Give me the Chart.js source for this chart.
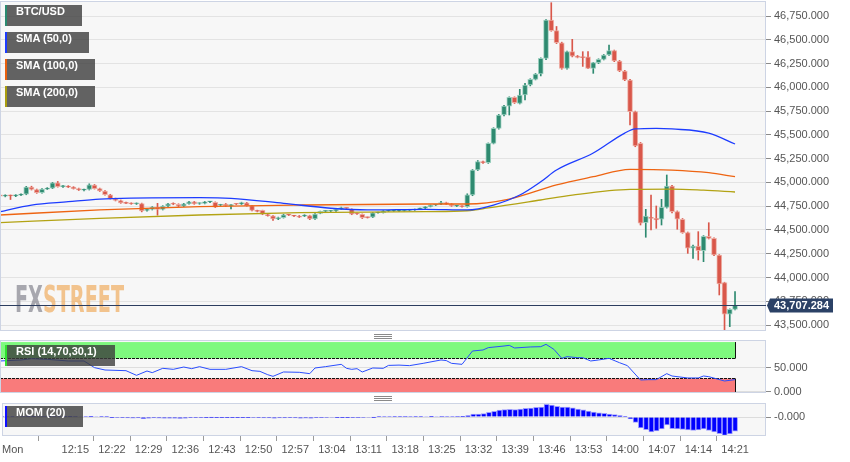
<!DOCTYPE html>
<html>
<head>
<meta charset="utf-8">
<script src="https://cdn.jsdelivr.net/npm/chart.js@4.4.1/dist/chart.umd.min.js"></script>
<style>
    body { margin: 0; background: #fff; }
    #wrap { position: relative; width: 850px; height: 462px; overflow: hidden; }
    canvas { position: absolute; left: 0; }
    .tag {
        position: absolute; left: 5px; height: 21px; line-height: 21px;
        background: rgba(60, 60, 60, 0.8); color: #fff;
        font: bold 11px "Liberation Sans", Arial, sans-serif;
        padding-left: 9px; box-sizing: border-box; border-left: 2px solid; z-index: 5;
    }
    .grip {
        position: absolute; left: 374px; width: 18px; height: 3px;
        border-top: 1px solid #8a8a8a; border-bottom: 1px solid #8a8a8a;
    }
    .grip::after { content: ''; position: absolute; left: 0; right: 0; top: 1px; border-top: 1px solid #8a8a8a; }
</style>
</head>
<body>
<div id="wrap">
    <canvas id="mainChart" width="850" height="333" style="top:0"></canvas>
    <div class="grip" style="top:334px"></div>
    <canvas id="rsiChart" width="850" height="58" style="top:338px"></canvas>
    <div class="grip" style="top:396px"></div>
    <canvas id="momChart" width="850" height="62" style="top:400px"></canvas>

    <div class="tag" style="top:5px; width:77px; border-left-color:#2a8a70">BTC/USD</div>
    <div class="tag" style="top:32px; width:84px; border-left-color:#1d3cff">SMA (50,0)</div>
    <div class="tag" style="top:59px; width:90px; border-left-color:#e8600e">SMA (100,0)</div>
    <div class="tag" style="top:86px; width:90px; border-left-color:#a89c10">SMA (200,0)</div>
    <div class="tag" style="top:345px; width:110px; border-left-color:#2fe02f">RSI (14,70,30,1)</div>
    <div class="tag" style="top:406px; width:78px; border-left-color:#1010ff">MOM (20)</div>
</div>
<script>
// 1-minute candles, 12:01 .. 14:21
const opens = [
    44870, 44855, 44862, 44858, 44866, 44876, 44950, 44925, 44892, 44930,
    44940, 44995, 44955, 44962, 44950, 44935, 44918, 44925, 44972, 44935,
    44910, 44870, 44830, 44810, 44785, 44780, 44775, 44778, 44705, 44715,
    44740, 44715, 44750, 44778, 44770, 44750, 44775, 44795, 44778, 44778,
    44795, 44790, 44760, 44773, 44755, 44772, 44773, 44785, 44755, 44703,
    44705, 44660, 44648, 44615, 44630, 44658, 44648, 44647, 44645, 44650,
    44615, 44675, 44696, 44697, 44700, 44717, 44728, 44718, 44672, 44665,
    44632, 44635, 44680, 44682, 44698, 44700, 44700, 44702, 44704, 44710,
    44722, 44728, 44745, 44760, 44770, 44787, 44773, 44750, 44752, 44745,
    44867, 45130, 45218, 45207, 45411, 45569, 45709, 45803, 45895, 45832,
    45919, 46024, 46084, 46140, 46305, 46708, 46596, 46469, 46200, 46375,
    46329, 46315, 46320, 46200, 46259, 46294, 46340, 46386, 46277, 46172,
    46077, 45744, 45411, 44576, 44633, 44622, 44612, 44738, 44962, 44692,
    44612, 44471, 44307, 44331, 44282, 44433, 44412, 44236, 43945, 43613, 43665
];
const highs = [
    44885, 44870, 44868, 44872, 44880, 44958, 44960, 44930, 44935, 44945,
    45000, 45010, 44968, 44966, 44955, 44940, 44930, 44985, 44978, 44940,
    44915, 44875, 44835, 44815, 44792, 44786, 44785, 44782, 44720, 44745,
    44780, 44755, 44780, 44785, 44775, 44780, 44800, 44800, 44785, 44800,
    44800, 44795, 44770, 44778, 44768, 44776, 44792, 44790, 44758, 44708,
    44708, 44665, 44652, 44635, 44665, 44662, 44654, 44652, 44660, 44655,
    44672, 44698, 44702, 44706, 44720, 44740, 44732, 44722, 44676, 44668,
    44636, 44684, 44688, 44704, 44705, 44706, 44710, 44708, 44714, 44720,
    44730, 44748, 44762, 44766, 44800, 44792, 44776, 44756, 44756, 44880,
    45135, 45230, 45225, 45415, 45575, 45715, 45810, 45900, 45900, 45979,
    46042, 46090, 46145, 46310, 46712, 46890, 46640, 46475, 46380, 46505,
    46335, 46375, 46375, 46262, 46300, 46345, 46445, 46392, 46283, 46178,
    46085, 45750, 45420, 44717, 44867, 44752, 44822, 45078, 44970, 44700,
    44620, 44478, 44340, 44482, 44440, 44576, 44418, 44240, 43950, 43670, 43851
];
const lows = [
    44845, 44848, 44820, 44850, 44860, 44870, 44920, 44885, 44888, 44925,
    44935, 44950, 44948, 44945, 44930, 44915, 44910, 44920, 44930, 44905,
    44865, 44825, 44805, 44780, 44776, 44770, 44768, 44690, 44698, 44710,
    44655, 44710, 44745, 44765, 44745, 44745, 44770, 44770, 44770, 44774,
    44788, 44735, 44752, 44748, 44720, 44765, 44768, 44750, 44700, 44690,
    44660, 44645, 44600, 44608, 44625, 44650, 44640, 44630, 44640, 44608,
    44610, 44670, 44690, 44692, 44696, 44714, 44720, 44660, 44662, 44620,
    44625, 44630, 44676, 44678, 44694, 44696, 44696, 44698, 44700, 44706,
    44718, 44724, 44742, 44756, 44766, 44768, 44748, 44745, 44740, 44740,
    44860, 45125, 45200, 45200, 45405, 45560, 45700, 45709, 45830, 45825,
    45867, 46015, 46078, 46120, 46290, 46590, 46460, 46190, 46190, 46320,
    46310, 46220, 46195, 46147, 46250, 46288, 46335, 46270, 46165, 46070,
    45604, 45375, 44552, 44423, 44499, 44517, 44552, 44730, 44680, 44507,
    44465, 44254, 44201, 44184, 44166, 44405, 44230, 43816, 43448, 43483, 43658
];
const closes = [
    44855, 44862, 44858, 44866, 44874, 44950, 44925, 44892, 44930, 44940,
    44995, 44955, 44962, 44950, 44935, 44920, 44925, 44975, 44935, 44910,
    44870, 44830, 44810, 44785, 44780, 44775, 44778, 44700, 44715, 44740,
    44715, 44750, 44775, 44770, 44750, 44775, 44795, 44775, 44778, 44795,
    44795, 44740, 44766, 44752, 44765, 44770, 44787, 44755, 44705, 44695,
    44665, 44650, 44615, 44630, 44660, 44656, 44645, 44635, 44655, 44615,
    44668, 44695, 44698, 44702, 44717, 44735, 44726, 44665, 44668, 44630,
    44630, 44680, 44684, 44700, 44700, 44702, 44706, 44704, 44710, 44716,
    44726, 44745, 44759, 44763, 44787, 44772, 44752, 44752, 44745, 44870,
    45130, 45218, 45207, 45411, 45569, 45709, 45803, 45895, 45838, 45919,
    46024, 46084, 46140, 46305, 46708, 46596, 46469, 46200, 46375, 46329,
    46315, 46312, 46200, 46259, 46294, 46340, 46386, 46277, 46172, 46077,
    45744, 45383, 44570, 44647, 44622, 44605, 44738, 44962, 44692, 44612,
    44471, 44307, 44331, 44282, 44433, 44412, 44236, 43931, 43613, 43665, 43707.284
];

// moving averages as [minute, price]
const sma50 = [[1, 44692], [7, 44762], [14, 44797], [20, 44825], [26, 44835], [39, 44839], [45, 44833],
    [55, 44780], [64, 44728], [71, 44710], [82, 44717], [90, 44710], [95, 44762], [100, 44867],
    [104, 45007], [107, 45130], [114, 45309], [120, 45519], [122, 45562], [126, 45569], [129, 45562],
    [136, 45519], [141, 45404]];
const sma100 = [[1, 44657], [20, 44710], [39, 44745], [58, 44762], [82, 44773], [90, 44773], [98, 44825],
    [107, 44973], [114, 45060], [121, 45138], [129, 45130], [136, 45102], [141, 45060]];
const sma200 = [[1, 44576], [20, 44622], [39, 44657], [58, 44682], [82, 44692], [90, 44702], [94, 44731],
    [104, 44815], [110, 44867], [121, 44927], [129, 44930], [135, 44918], [141, 44899]];

// RSI (14) as [minute, value]
const rsi = [[1, 64.6], [5, 66.7], [7, 69.4], [10, 68], [14, 64.6], [17, 64.6], [19, 50.7], [21, 45.8],
    [25, 44.4], [27, 34.7], [29, 43.7], [30, 40.3], [32, 49.3], [34, 47.2], [36, 52], [37.5, 48.6],
    [39, 52.8], [41, 47.2], [44, 47.2], [47, 52.8], [49, 44.4], [50.5, 43], [52, 36], [53, 32.6],
    [55, 41.7], [58, 41], [60, 38.2], [61, 50], [63, 52.8], [66, 57.6], [67, 49.3], [68, 47.2],
    [69, 48.6], [70, 41.7], [72, 50], [74, 49.3], [75, 55.4], [77, 56], [79, 54.9], [81.6, 59.7],
    [85, 66.7], [86, 65.5], [87, 59.7], [89, 57.6], [91, 85.4], [93, 87.5], [94, 92.4], [97, 95.8],
    [98, 97.2], [99, 91.7], [102, 93.8], [104, 94.4], [105, 99.3], [106.5, 88.9], [108, 70.1],
    [109, 73.6], [111, 71.5], [112, 71.5], [113.5, 64.6], [115, 66.7], [117, 70.1], [119, 61],
    [120.5, 54.9], [123, 25], [124.5, 25.7], [126, 25.7], [128, 38.2], [129, 33.3], [132, 29.2],
    [134, 29.2], [135, 33.3], [136, 31.9], [139, 22.9], [141, 25.7]];
const rsiUpper = 70, rsiLower = 30, rsiTop = 104;

// momentum (20), one bar per candle
const mom = [
    40, 60, 50, 70, 80, 120, 90, 60, 80, 90,
    130, 100, 110, 90, 80, 70, 60, 110, 70, 50,
    10, -30, -80, -110, -130, -150, -140, -220, -180, -140,
    -150, -160, -160, -170, -190, -170, -110, -110, -100, -50,
    -20, -30, -40, -50, -30, -40, -30, -40, -80, -110,
    -130, -120, -160, -130, -120, -110, -130, -160, -150, -160,
    -110, -60, -80, -70, -50, -40, -50, -90, -60, -80,
    -70, -20, 30, 60, 60, 40, 50, 80, 60, 40,
    40, 70, 90, 70, 80, 60, 60, 80, 90, 185,
    426, 426, 470, 667, 809, 994, 1040, 1090, 1040, 1136,
    1235, 1280, 1377, 1420, 1800, 1704, 1520, 1420, 1420, 1320,
    1136, 1036, 852, 710, 610, 525, 426, 327, 185, 100,
    -284, -753, -1562, -1800, -2130, -1990, -1704, -1136, -1660, -1704,
    -1750, -1846, -1890, -1846, -1704, -1890, -2130, -2370, -2600, -2414, -2030
];

const priceTicks = [43500, 43750, 44000, 44250, 44500, 44750, 45000, 45250, 45500, 45750, 46000, 46250, 46500, 46750];
const rsiTicks = [0, 50];
const momTicks = [0];
const xTickMinutes = [1, 15, 22, 29, 36, 43, 50, 57, 64, 71, 78, 85, 92, 99, 106, 113, 120, 127, 134, 141, 146.9];
const xTickLabels = ['Mon', '12:15', '12:22', '12:29', '12:36', '12:43', '12:50', '12:57', '13:04', '13:11',
    '13:18', '13:25', '13:32', '13:39', '13:46', '13:53', '14:00', '14:07', '14:14', '14:21', ''];

const X_MIN = 1, X_MAX = 146.9;
const FONT = '"Liberation Sans", Arial, sans-serif';
const upColor = '#2e8a70', downColor = '#d9574a';

Chart.defaults.font.family = FONT;

const fmt = v => v.toLocaleString('en-US', { minimumFractionDigits: 3, maximumFractionDigits: 3 });
const minutes = closes.map((_, i) => i + 1);
const isUp = closes.map((c, i) => c >= opens[i]);
const pts = arr => arr.map(([x, y]) => ({ x, y }));

// grey panel background and thin frame
const panelFrame = {
    id: 'panelFrame',
    beforeDraw(chart) {
        const { ctx, chartArea: a } = chart;
        ctx.save();
        ctx.fillStyle = '#f7f7f7';
        ctx.fillRect(a.left, a.top, a.right - a.left, a.bottom - a.top);
        ctx.restore();
    },
    afterDraw(chart) {
        const { ctx, chartArea: a } = chart;
        ctx.save();
        ctx.strokeStyle = '#cdd4e4';
        ctx.lineWidth = 1;
        ctx.strokeRect(a.left + 0.5, a.top + 0.5, a.right - a.left - 1, a.bottom - a.top - 1);
        ctx.restore();
    }
};

const watermark = {
    id: 'watermark',
    beforeDatasetsDraw(chart) {
        const ctx = chart.ctx;
        ctx.save();
        ctx.font = 'bold 37px "DejaVu Sans", sans-serif';
        const wFx = ctx.measureText('FX').width;
        const wSt = ctx.measureText('STREET').width;
        ctx.translate(15, 312);
        ctx.scale(109 / (wFx + wSt), 1);
        ctx.fillStyle = 'rgba(140,140,150,0.75)';
        ctx.fillText('FX', 0, 0);
        ctx.fillStyle = 'rgba(240,172,95,0.7)';
        ctx.fillText('STREET', wFx, 0);
        ctx.restore();
    }
};

const lastPriceTag = {
    id: 'lastPriceTag',
    afterDraw(chart) {
        const { ctx, chartArea: a, scales: { y } } = chart;
        const last = closes[closes.length - 1];
        const py = Math.round(y.getPixelForValue(last)) + 0.5;
        ctx.save();
        ctx.strokeStyle = '#2c3d5f';
        ctx.lineWidth = 1;
        ctx.beginPath();
        ctx.moveTo(a.left, py);
        ctx.lineTo(a.right, py);
        ctx.stroke();
        ctx.fillStyle = '#2b4166';
        ctx.beginPath();
        ctx.moveTo(a.right + 1, py);
        ctx.lineTo(a.right + 4, py - 7);
        ctx.lineTo(a.right + 67, py - 7);
        ctx.lineTo(a.right + 67, py + 7);
        ctx.lineTo(a.right + 4, py + 7);
        ctx.closePath();
        ctx.fill();
        ctx.fillStyle = '#fff';
        ctx.font = 'bold 11px ' + FONT;
        ctx.textBaseline = 'middle';
        ctx.fillText(fmt(last), a.right + 8, py + 0.5);
        ctx.restore();
    }
};

const rsiZones = {
    id: 'rsiZones',
    beforeDatasetsDraw(chart) {
        const { ctx, chartArea: a, scales: { x, y } } = chart;
        const x0 = a.left;
        const x1 = Math.round(x.getPixelForValue(minutes[minutes.length - 1])) + 0.5;
        const yTop = y.getPixelForValue(rsiTop);
        const yUp = Math.round(y.getPixelForValue(rsiUpper)) + 0.5;
        const yLo = Math.round(y.getPixelForValue(rsiLower)) + 0.5;
        const yZero = y.getPixelForValue(0);
        ctx.save();
        ctx.fillStyle = '#7ef97e';
        ctx.fillRect(x0, yTop, x1 - x0, yUp - yTop);
        ctx.fillStyle = '#f97b7b';
        ctx.fillRect(x0, yLo, x1 - x0, yZero - yLo);
        ctx.strokeStyle = '#111';
        ctx.lineWidth = 1;
        ctx.beginPath();
        ctx.moveTo(x1, yTop); ctx.lineTo(x1, yUp);
        ctx.moveTo(x1, yLo); ctx.lineTo(x1, yZero);
        ctx.stroke();
        ctx.setLineDash([3, 1]);
        ctx.beginPath();
        ctx.moveTo(x0, yUp); ctx.lineTo(x1, yUp);
        ctx.moveTo(x0, yLo); ctx.lineTo(x1, yLo);
        ctx.stroke();
        ctx.restore();
    }
};

function rightAxis(min, max, ticks, labelOf, gridColor) {
    return {
        position: 'right', min, max,
        afterBuildTicks: s => { s.ticks = ticks.map(v => ({ value: v })); },
        afterFit: s => { s.width = 84; s.paddingTop = 0; s.paddingBottom = 0; },
        grid: { color: gridColor, tickLength: 5, tickColor: '#8a8a8a' },
        border: { display: false },
        ticks: { color: '#555', padding: 3, font: { size: 11 }, callback: labelOf }
    };
}

const hiddenX = { type: 'linear', min: X_MIN, max: X_MAX, offset: false, display: false };
const quiet = { legend: { display: false }, tooltip: { enabled: false } };

// price panel
new Chart(document.getElementById('mainChart'), {
    type: 'bar',
    data: {
        datasets: [
            { type: 'line', data: pts(sma50), borderColor: '#1d3cff', borderWidth: 1.3, pointRadius: 0, cubicInterpolationMode: 'monotone', order: 1 },
            { type: 'line', data: pts(sma100), borderColor: '#ee6412', borderWidth: 1.3, pointRadius: 0, cubicInterpolationMode: 'monotone', order: 1 },
            { type: 'line', data: pts(sma200), borderColor: '#b3a314', borderWidth: 1.3, pointRadius: 0, cubicInterpolationMode: 'monotone', order: 1 },
            {
                data: minutes.map((m, i) => ({ x: m, y: [opens[i], closes[i]] })),
                backgroundColor: isUp.map(u => u ? upColor : downColor),
                borderColor: isUp.map(u => u ? 'rgba(150,205,188,0.9)' : 'rgba(236,168,158,0.9)'),
                borderWidth: 1, borderSkipped: false, barThickness: 5, minBarLength: 1,
                grouped: false, clip: 0, order: 3
            },
            {
                data: minutes.map((m, i) => ({ x: m, y: [lows[i], highs[i]] })),
                backgroundColor: isUp.map(u => u ? upColor : downColor),
                barThickness: 1, grouped: false, clip: 0, order: 4
            }
        ]
    },
    options: {
        responsive: false, animation: false, devicePixelRatio: 1,
        layout: { padding: { top: 1, bottom: 2, left: 0, right: 0 } },
        scales: {
            x: hiddenX,
            y: rightAxis(43437, 46908, priceTicks, v => fmt(v), '#e3e3e3')
        },
        plugins: quiet
    },
    plugins: [panelFrame, watermark, lastPriceTag]
});

// RSI panel
new Chart(document.getElementById('rsiChart'), {
    type: 'line',
    data: {
        datasets: [{ data: pts(rsi), borderColor: '#2a4dff', borderWidth: 1, pointRadius: 0, tension: 0 }]
    },
    options: {
        responsive: false, animation: false, devicePixelRatio: 1,
        layout: { padding: { top: 2, bottom: 3, left: 0, right: 0 } },
        scales: {
            x: hiddenX,
            y: rightAxis(-2.1, 108.3, rsiTicks, v => fmt(v), '#dedede')
        },
        plugins: quiet
    },
    plugins: [panelFrame, rsiZones]
});

// momentum panel, carries the time axis
new Chart(document.getElementById('momChart'), {
    type: 'bar',
    data: {
        datasets: [{
            data: minutes.map((m, i) => ({ x: m, y: mom[i] })),
            backgroundColor: '#0000ff', borderColor: '#9c9cff', borderWidth: 1,
            barThickness: 5, grouped: false, clip: 0
        }]
    },
    options: {
        responsive: false, animation: false, devicePixelRatio: 1,
        layout: { padding: { top: 3, bottom: 0, left: 0, right: 0 } },
        scales: {
            x: {
                type: 'linear', min: X_MIN, max: X_MAX, offset: false,
                afterBuildTicks: s => { s.ticks = xTickMinutes.map(v => ({ value: v })); },
                afterFit: s => { s.height = 26; },
                grid: {
                    drawOnChartArea: false, tickLength: 5,
                    tickColor: c => c.index === xTickMinutes.length - 1 ? 'rgba(0,0,0,0)' : '#9a9a9a'
                },
                border: { display: false },
                ticks: {
                    align: 'inner', autoSkip: false, maxRotation: 0, minRotation: 0, padding: 2,
                    color: '#555', font: { size: 11 },
                    callback: (v, i) => xTickLabels[i]
                }
            },
            y: rightAxis(-2700, 1990, momTicks, () => '-0.000', '#dcdcdc')
        },
        plugins: quiet
    },
    plugins: [panelFrame]
});
</script>
</body>
</html>
